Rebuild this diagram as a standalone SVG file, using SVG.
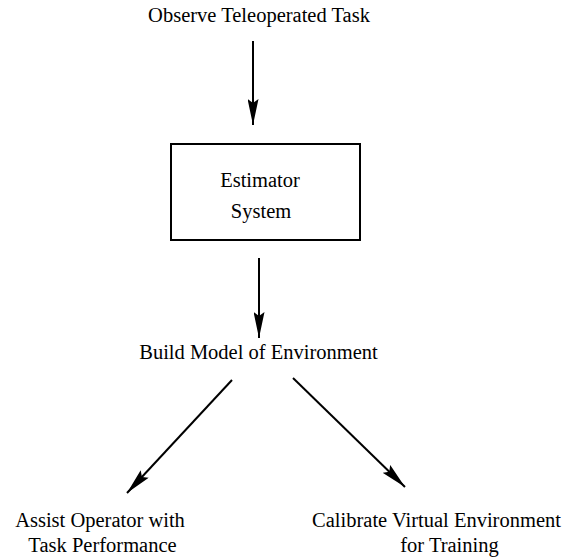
<svg xmlns="http://www.w3.org/2000/svg" width="573" height="558" viewBox="0 0 573 558">
<style>
text{font-family:'Liberation Serif',serif;font-size:20.5px;fill:#000;text-anchor:middle}
.c{stroke:#000;stroke-width:2;fill:none}
</style>
<defs>
<marker id="ah" viewBox="0 0 26 11" refX="26" refY="5.5" markerWidth="26" markerHeight="11" markerUnits="userSpaceOnUse" orient="auto">
<path d="M0,0 L26,5.5 L0,11 L4,5.5 Z" fill="#000"/>
</marker>
</defs>
<rect width="573" height="558" fill="#fff"/>
<g id="connectors">
<line class="c" x1="253" y1="41" x2="253" y2="125" marker-end="url(#ah)"/>
<line class="c" x1="259" y1="258" x2="259" y2="338" marker-end="url(#ah)"/>
<line class="c" x1="232" y1="380" x2="127" y2="493" marker-end="url(#ah)"/>
<line class="c" x1="293" y1="378" x2="405" y2="487" marker-end="url(#ah)"/>
</g>
<g id="observe"><text x="259" y="22">Observe Teleoperated Task</text></g>
<g id="estimator">
<rect x="171" y="144" width="189" height="96" fill="none" stroke="#000" stroke-width="2"/>
<text x="260" y="187">Estimator</text>
<text x="261" y="218">System</text>
</g>
<g id="build"><text x="258.5" y="359">Build Model of Environment</text></g>
<g id="assist">
<text x="100" y="527">Assist Operator with</text>
<text x="102.5" y="552">Task Performance</text>
</g>
<g id="calibrate">
<text x="436.5" y="527">Calibrate Virtual Environment</text>
<text x="449.5" y="552">for Training</text>
</g>
</svg>
